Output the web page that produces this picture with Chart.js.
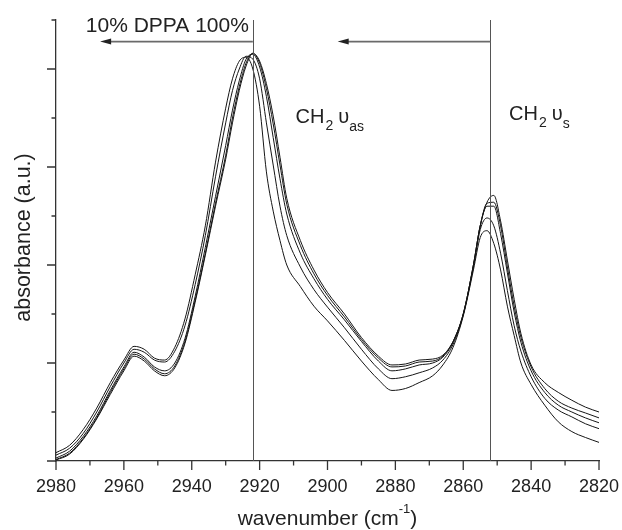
<!DOCTYPE html>
<html><head><meta charset="utf-8">
<script src="https://cdn.jsdelivr.net/npm/chart.js@4/dist/chart.umd.min.js"></script>
<style>html,body{margin:0;padding:0;background:#fff;}</style>
</head><body>
<canvas id="c" width="622" height="530"></canvas>
<script>
// wavenumber grid (cm^-1)
const wavenumber = [2980,2976,2972,2968,2964,2960,2957,2954,2951,2948,2945,2942,2939,2936,2933,2930,2928,2926,2924,2922,2920,2918,2916,2914,2912,2908,2904,2900,2895,2890,2885,2881,2877,2873,2869,2866,2863,2860,2857,2855,2853,2851,2849,2847,2845,2843,2840,2836,2832,2828,2824,2820];
// absorbance spectra (a.u.), 5 compositions
const spectrumA = [0.01,0.07,0.22,0.43,0.68,0.92,1.07,1.02,0.92,0.87,0.95,1.20,1.62,2.10,2.60,3.08,3.45,3.78,4.03,4.16,4.08,3.85,3.52,3.10,2.68,2.25,1.95,1.72,1.50,1.26,1.07,0.98,0.99,1.03,1.04,1.08,1.22,1.50,2.00,2.40,2.64,2.71,2.45,2.05,1.65,1.30,0.98,0.80,0.70,0.62,0.55,0.50];
const spectrumB = [0.015,0.08,0.23,0.44,0.70,0.94,1.09,1.04,0.94,0.89,0.97,1.22,1.64,2.12,2.63,3.12,3.50,3.82,4.06,4.16,4.06,3.80,3.44,3.02,2.62,2.20,1.91,1.69,1.47,1.24,1.05,0.96,0.97,1.01,1.02,1.07,1.22,1.50,2.00,2.40,2.63,2.64,2.40,1.98,1.58,1.26,0.96,0.74,0.61,0.54,0.49,0.44];
const spectrumC = [0.03,0.10,0.25,0.46,0.72,0.96,1.11,1.06,0.96,0.92,1.00,1.25,1.68,2.18,2.70,3.22,3.58,3.88,4.10,4.15,4.02,3.72,3.30,2.88,2.52,2.12,1.86,1.65,1.44,1.22,1.02,0.92,0.94,0.98,1.00,1.06,1.21,1.50,2.00,2.40,2.60,2.60,2.32,1.92,1.52,1.21,0.92,0.70,0.57,0.50,0.44,0.39];
const spectrumD = [0.06,0.13,0.28,0.50,0.76,1.00,1.14,1.11,1.03,1.01,1.12,1.38,1.80,2.30,2.90,3.45,3.78,4.00,4.13,4.10,3.90,3.45,3.02,2.60,2.30,1.98,1.75,1.57,1.36,1.14,0.94,0.84,0.86,0.90,0.95,1.03,1.19,1.49,1.98,2.36,2.48,2.40,2.12,1.74,1.38,1.12,0.86,0.64,0.52,0.45,0.38,0.33];
const spectrumE = [0.085,0.16,0.32,0.54,0.80,1.03,1.17,1.14,1.05,1.03,1.16,1.45,1.90,2.40,3.05,3.60,3.90,4.08,4.12,4.00,3.62,2.95,2.55,2.25,2.00,1.78,1.58,1.43,1.23,1.02,0.83,0.72,0.74,0.80,0.87,0.98,1.16,1.48,1.95,2.28,2.35,2.22,1.95,1.58,1.28,1.00,0.78,0.57,0.40,0.30,0.24,0.19];
const spectra = [spectrumA, spectrumB, spectrumC, spectrumD, spectrumE];

// axis ticks
const xTickLabels = [2980,2960,2940,2920,2900,2880,2860,2840,2820];
const xMinorTicks = [2970,2950,2930,2910,2890,2870,2850,2830];
const yMajorTicks = [0,1,2,3,4];
const yMinorTicks = [0.5,1.5,2.5,3.5,4.5];

// reference lines (band positions) and shift arrows
const bandLines = [2922, 2852];
const shiftArrows = [{from:2922, to:2967}, {from:2852, to:2897}];
const arrowLevel = 4.28;

const FONT = "'Liberation Sans', Arial, Helvetica, sans-serif";
const AX = '#333';

function drawParts(ctx, parts, x, y) {
  for (const p of parts) {
    x += (p.gap || 0);
    ctx.font = p.size + 'px ' + FONT;
    ctx.fillText(p.t, x, y + (p.dy || 0));
    x += ctx.measureText(p.t).width;
  }
  return x;
}
function partsWidth(ctx, parts) {
  let w = 0;
  for (const p of parts) { ctx.font = p.size + 'px ' + FONT; w += (p.gap || 0) + ctx.measureText(p.t).width; }
  return w;
}

const decor = {
  id: 'decor',
  afterDraw(chart) {
    const {ctx, chartArea: a, scales: {x, y}} = chart;
    ctx.save();
    // tick marks
    ctx.strokeStyle = AX; ctx.lineWidth = 1.3;
    ctx.beginPath();
    xTickLabels.forEach(v => { const p = x.getPixelForValue(v); ctx.moveTo(p, a.bottom); ctx.lineTo(p, a.bottom + 9); });
    xMinorTicks.forEach(v => { const p = x.getPixelForValue(v); ctx.moveTo(p, a.bottom); ctx.lineTo(p, a.bottom + 4.5); });
    yMajorTicks.forEach(v => { const p = y.getPixelForValue(v); ctx.moveTo(a.left, p); ctx.lineTo(a.left - 9, p); });
    yMinorTicks.forEach(v => { const p = y.getPixelForValue(v); ctx.moveTo(a.left, p); ctx.lineTo(a.left - 4.5, p); });
    ctx.stroke();
    // band lines
    ctx.strokeStyle = '#555'; ctx.lineWidth = 1;
    ctx.beginPath();
    bandLines.forEach(v => { const p = Math.round(x.getPixelForValue(v)) + 0.5; ctx.moveTo(p, y.getPixelForValue(4.5)); ctx.lineTo(p, a.bottom); });
    ctx.stroke();
    // arrows
    const ay = y.getPixelForValue(arrowLevel);
    shiftArrows.forEach(ar => {
      const p0 = x.getPixelForValue(ar.from), p1 = x.getPixelForValue(ar.to);
      ctx.strokeStyle = '#6a6a6a'; ctx.lineWidth = 1.7;
      ctx.beginPath(); ctx.moveTo(p0, ay); ctx.lineTo(p1 + 8, ay); ctx.stroke();
      ctx.fillStyle = '#222';
      ctx.beginPath(); ctx.moveTo(p1, ay); ctx.lineTo(p1 + 11, ay - 3); ctx.lineTo(p1 + 11, ay + 3); ctx.closePath(); ctx.fill();
    });
    // annotations
    ctx.fillStyle = '#222'; ctx.textBaseline = 'alphabetic';
    ctx.font = '21px ' + FONT; ctx.textAlign = 'right';
    ctx.fillText('10% DPPA 100%', x.getPixelForValue(2922) - 4, 32);
    ctx.textAlign = 'left';
    drawParts(ctx, [{t:'CH', size:20}, {t:'2', size:14, dy:7, gap:1}, {t:'\u03C5', size:20, gap:5}, {t:'as', size:14, dy:8}], x.getPixelForValue(2909.4), 123);
    drawParts(ctx, [{t:'CH', size:20}, {t:'2', size:14, dy:7, gap:1}, {t:'\u03C5', size:20, gap:5}, {t:'s', size:14, dy:8}], x.getPixelForValue(2846.5), 120);
    // x title
    const xt = [{t:'wavenumber (cm', size:21}, {t:'-1', size:13, dy:-12}, {t:')', size:21}];
    const w = partsWidth(ctx, xt);
    drawParts(ctx, xt, (a.left + a.right) / 2 - w / 2, 525);
    // y title
    ctx.save();
    ctx.translate(24, (a.top + a.bottom) / 2 - 3);
    ctx.rotate(-Math.PI / 2);
    ctx.textAlign = 'center'; ctx.textBaseline = 'middle';
    ctx.font = '21.5px ' + FONT;
    ctx.fillText('absorbance (a.u.)', 0, 0);
    ctx.restore();
    ctx.restore();
  }
};

new Chart(document.getElementById('c'), {
  type: 'line',
  data: {
    datasets: spectra.map(s => ({
      data: wavenumber.map((wn, i) => ({x: wn, y: s[i]})),
      borderColor: '#151515', borderWidth: 1, pointRadius: 0,
      cubicInterpolationMode: 'monotone', fill: false
    }))
  },
  options: {
    responsive: false, animation: false,
    plugins: {legend: {display: false}, tooltip: {enabled: false}},
    layout: {padding: {left: 0, right: 23, top: 20, bottom: 0}},
    scales: {
      x: {
        type: 'linear', reverse: true, min: 2820, max: 2980,
        afterBuildTicks(s) { s.ticks = xTickLabels.map(v => ({value: v})); },
        afterFit(s) { s.height = 69; s.paddingLeft = 0; s.paddingRight = 0; },
        grid: {display: false, drawTicks: false},
        border: {display: true, color: AX, width: 1.3},
        ticks: {padding: 15, font: {family: FONT, size: 18}, color: '#222', maxRotation: 0, autoSkip: false, callback: v => String(v)}
      },
      y: {
        min: 0, max: 4.5,
        afterFit(s) { s.width = 56; s.paddingTop = 0; s.paddingBottom = 0; },
        grid: {display: false, drawTicks: false},
        border: {display: true, color: AX, width: 1.3},
        ticks: {display: false}
      }
    }
  },
  plugins: [decor]
});
</script>
</body></html>
